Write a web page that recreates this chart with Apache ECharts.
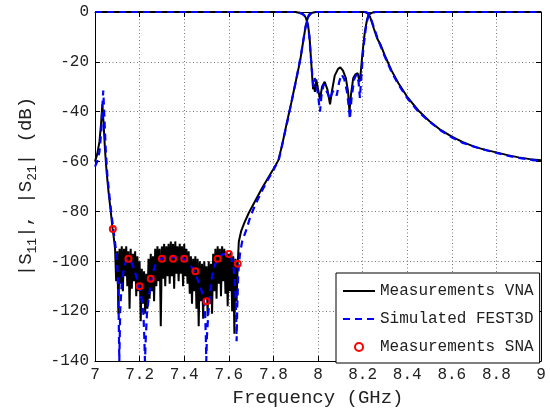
<!DOCTYPE html>
<html>
<head>
<meta charset="utf-8">
<script src="https://cdn.jsdelivr.net/npm/echarts@6.0.0/dist/echarts.min.js"></script>
<style>
  body { margin: 0; background: #fff; }
  #chart { width: 550px; height: 412px; }
</style>
</head>
<body>
<div id="chart"></div>
<script>
// frequency (GHz), level (dB)
var vnaS21 = [
  [7.0,-60],[7.01,-57],[7.02,-52],[7.027,-45],[7.033,-37],[7.038,-44],[7.045,-55.5],[7.052,-64],
  [7.06,-71.5],[7.07,-79.5],[7.079,-87],[7.085,-91],
  [7.090,-95],[7.095,-108],[7.100,-96],[7.105,-121],[7.110,-95],[7.115,-109],[7.120,-94],[7.125,-112],
  [7.130,-95],[7.135,-106],[7.140,-94],[7.145,-110],[7.150,-96],[7.155,-119],[7.160,-95],[7.165,-111],
  [7.170,-97],[7.175,-108],[7.180,-96],[7.185,-114],[7.190,-98],[7.195,-112],[7.200,-100],[7.205,-124],
  [7.210,-103],[7.215,-117],[7.220,-104],[7.225,-121],[7.230,-105],[7.235,-119],[7.240,-99],[7.245,-115],
  [7.250,-97],[7.255,-112],[7.260,-98],[7.265,-116],[7.270,-95],[7.275,-110],[7.280,-94],[7.285,-108],
  [7.290,-95],[7.295,-126],[7.300,-94],[7.305,-107],[7.310,-93],[7.315,-110],[7.320,-94],[7.325,-106],
  [7.330,-93],[7.335,-109],[7.340,-92],[7.345,-106],[7.350,-93],[7.355,-111],[7.360,-92],[7.365,-105],
  [7.370,-94],[7.375,-108],[7.380,-93],[7.385,-105],[7.390,-94],[7.395,-110],[7.400,-93],[7.405,-106],
  [7.410,-95],[7.415,-109],[7.420,-96],[7.425,-113],[7.430,-98],[7.435,-117],[7.440,-99],[7.445,-112],
  [7.450,-98],[7.455,-119],[7.460,-99],[7.465,-126],[7.470,-100],[7.475,-116],[7.480,-101],[7.485,-123],
  [7.490,-100],[7.495,-115],[7.500,-102],[7.505,-122],[7.510,-100],[7.515,-117],[7.520,-101],[7.525,-121],
  [7.530,-97],[7.535,-112],[7.540,-95],[7.545,-115],[7.550,-94],[7.555,-109],[7.560,-95],[7.565,-114],
  [7.570,-94],[7.575,-108],[7.580,-95],[7.585,-113],[7.590,-96],[7.595,-118],[7.600,-97],[7.605,-112],
  [7.610,-96],[7.615,-120],[7.620,-98],[7.625,-129],[7.630,-99],[7.635,-116],[7.640,-101],[7.645,-92],
  [7.655,-88],[7.67,-84.5],[7.69,-80.5],[7.72,-75.5],[7.75,-70.5],[7.78,-66],[7.80,-63],[7.822,-59.5],
  [7.84,-53],[7.86,-44.5],[7.88,-36.5],[7.90,-28],[7.92,-19.5],[7.935,-11],[7.945,-5.5],[7.955,-2],
  [7.97,-0.4],[7.99,0],[8.21,0],[8.22,-0.3],[8.233,-1.8],[8.25,-6.5],[8.265,-10.5],[8.28,-13],
  [8.3,-17.5],[8.33,-23.5],[8.36,-28.5],[8.4,-34],[8.45,-39.5],[8.5,-43.8],[8.55,-47.3],[8.6,-50],
  [8.65,-52.2],[8.7,-54],[8.75,-55.3],[8.8,-56.3],[8.85,-57.4],[8.9,-58.3],[8.95,-59],[9.0,-59.5]
];
var vnaS11 = [
  [7.0,0],[7.9,0],[7.92,-0.4],[7.935,-1],[7.945,-2.2],[7.955,-5],[7.962,-10],[7.968,-18],[7.974,-26],
  [7.978,-31],[7.982,-29],[7.986,-32],[7.992,-27],[8.0,-27.5],[8.009,-35],[8.018,-30],[8.03,-28],
  [8.042,-31],[8.054,-37],[8.062,-32],[8.075,-25.5],[8.09,-22.8],[8.1,-22.2],[8.112,-23.5],[8.125,-26.5],
  [8.135,-32],[8.141,-40],[8.148,-33],[8.158,-26.5],[8.168,-25],[8.178,-24.5],[8.186,-28],[8.192,-24],
  [8.2,-16],[8.21,-8],[8.22,-3],[8.23,-1],[8.245,-0.2],[8.26,0],[9.0,0]
];
var simS21 = [
  [7.0,-62],[7.01,-60],[7.02,-56],[7.028,-48],[7.033,-38],[7.037,-31.5],[7.042,-42],[7.048,-55],
  [7.055,-65],[7.065,-74],[7.075,-82],[7.085,-89],[7.095,-96],[7.102,-105],[7.106,-120],[7.109,-140],
  [7.113,-120],[7.12,-108.5],[7.13,-102.5],[7.14,-99.5],[7.15,-99],[7.16,-99.8],[7.17,-101.8],[7.18,-104.5],
  [7.19,-107.5],[7.2,-111],[7.21,-115.5],[7.217,-121],[7.221,-130],[7.224,-140],[7.228,-130],[7.233,-121],
  [7.24,-115.5],[7.25,-109],[7.26,-104.5],[7.27,-101.5],[7.285,-99.5],[7.3,-98.8],[7.33,-98.5],[7.36,-98.3],
  [7.39,-98.6],[7.41,-99.8],[7.43,-101.8],[7.45,-105],[7.47,-109.5],[7.485,-114],[7.493,-119],[7.497,-130],
  [7.499,-140],[7.502,-130],[7.508,-121],[7.516,-113],[7.525,-106],[7.538,-101.5],[7.553,-98.5],[7.575,-97],
  [7.598,-97.2],[7.612,-99],[7.622,-103],[7.628,-110],[7.632,-118],[7.635,-132],[7.638,-118],[7.643,-104],
  [7.65,-97],[7.66,-92],[7.68,-87],[7.695,-82.5],[7.72,-77],[7.75,-71.5],[7.78,-66.5],[7.80,-63.5],
  [7.825,-59],[7.845,-51],[7.865,-43],[7.885,-34.5],[7.905,-26],[7.925,-16.5],[7.94,-8],[7.95,-3.5],
  [7.96,-1],[7.975,-0.2],[7.99,0],[8.21,0],[8.225,-0.4],[8.235,-2],[8.25,-6],[8.265,-10],
  [8.28,-13.5],[8.3,-18],[8.33,-24],[8.36,-29],[8.4,-34.5],[8.45,-40],[8.5,-44],[8.55,-47.5],
  [8.6,-50.3],[8.65,-52.5],[8.7,-54],[8.75,-55.3],[8.8,-56.5],[8.85,-57.6],[8.9,-58.5],[8.95,-59.2],[9.0,-59.8]
];
var simS11 = [
  [7.0,0],[7.905,0],[7.925,-0.5],[7.94,-1.5],[7.95,-3.5],[7.96,-9],[7.968,-18],[7.975,-26],[7.98,-30],
  [7.985,-26.5],[7.992,-29],[8.0,-33],[8.005,-37],[8.009,-40],[8.015,-34],[8.025,-29],[8.032,-30.5],
  [8.045,-33],[8.054,-35],[8.065,-32],[8.075,-31.5],[8.084,-33.5],[8.095,-28],[8.106,-25],[8.118,-27],
  [8.13,-32],[8.138,-38],[8.143,-43],[8.15,-35],[8.162,-27],[8.173,-25],[8.182,-28],[8.188,-34.5],
  [8.195,-25],[8.203,-15],[8.215,-6],[8.225,-1.5],[8.24,-0.3],[8.255,0],[9.0,0]
];
var snaS21 = [
  [7.08,-87],[7.15,-99],[7.2,-110],[7.25,-107],[7.3,-99],[7.35,-99],
  [7.4,-99],[7.45,-104],[7.5,-116],[7.55,-99],[7.6,-97],[7.64,-101]
];

var mono = "'Liberation Mono', 'Courier New', monospace";
var chart = echarts.init(document.getElementById('chart'));

function lineSeries(name, data, color, type, width) {
  return {
    name: name, type: 'line', data: data, symbol: 'none', clip: false,
    lineStyle: { color: color, width: width, type: type },
    itemStyle: { color: color }
  };
}

var noDot = { color: 'rgba(0,0,0,0)', borderColor: 'rgba(0,0,0,0)', borderWidth: 0 };

var option = {
  animation: false,
  grid: { left: 95, right: 9, top: 12, bottom: 45 },
  legend: {
    orient: 'vertical', left: 336, top: 273,
    itemWidth: 32, itemHeight: 8, itemGap: 12,
    padding: [10, 6, 8, 6],
    backgroundColor: '#fff', borderColor: '#000', borderWidth: 1, borderRadius: 0,
    textStyle: { fontFamily: mono, fontSize: 16, color: '#222', lineHeight: 14 },
    data: [
      { name: 'Measurements VNA', itemStyle: noDot },
      { name: 'Simulated FEST3D', itemStyle: noDot },
      { name: 'Measurements SNA', icon: 'circle' }
    ]
  },
  xAxis: [{
    type: 'value', min: 7, max: 9, interval: 0.2,
    name: 'Frequency (GHz)', nameLocation: 'middle', nameGap: 16,
    nameTextStyle: { fontFamily: mono, fontSize: 19, color: '#222' },
    axisLine: { show: true, onZero: false, lineStyle: { color: '#000', width: 1 } },
    axisTick: { show: true, inside: true, length: 5, lineStyle: { color: '#000' } },
    axisLabel: { fontFamily: mono, fontSize: 16, color: '#222', margin: 6 },
    splitLine: { show: true, lineStyle: { color: '#777', width: 1, type: [1, 2.5] } }
  }, {
    type: 'value', min: 7, max: 9, interval: 0.2, position: 'top',
    axisLine: { show: true, onZero: false, lineStyle: { color: '#000', width: 1 } },
    axisTick: { show: true, inside: true, length: 5, lineStyle: { color: '#000' } },
    axisLabel: { show: false }, splitLine: { show: false }
  }],
  yAxis: [{
    type: 'value', min: -140, max: 0, interval: 20,
    name: '|S{sub|11}|, |S{sub|21}| (dB)', nameLocation: 'middle', nameGap: 56,
    nameTextStyle: {
      fontFamily: mono, fontSize: 19, color: '#222', lineHeight: 26,
      rich: { sub: { fontFamily: mono, fontSize: 13, color: '#222', lineHeight: 13, verticalAlign: 'bottom' } }
    },
    axisLine: { show: true, onZero: false, lineStyle: { color: '#000', width: 1 } },
    axisTick: { show: true, inside: true, length: 5, lineStyle: { color: '#000' } },
    axisLabel: { fontFamily: mono, fontSize: 16, color: '#222', margin: 6 },
    splitLine: { show: true, lineStyle: { color: '#777', width: 1, type: [1, 2.5] } }
  }, {
    type: 'value', min: -140, max: 0, interval: 20, position: 'right',
    axisLine: { show: true, onZero: false, lineStyle: { color: '#000', width: 1 } },
    axisTick: { show: true, inside: true, length: 5, lineStyle: { color: '#000' } },
    axisLabel: { show: false }, splitLine: { show: false }
  }],
  series: [
    lineSeries('Measurements VNA', vnaS21, '#000', 'solid', 2),
    lineSeries('Measurements VNA', vnaS11, '#000', 'solid', 2),
    lineSeries('Simulated FEST3D', simS21, '#0000ff', [7, 5], 2.2),
    lineSeries('Simulated FEST3D', simS11, '#0000ff', [7, 5], 2.2),
    {
      name: 'Measurements SNA', type: 'scatter', data: snaS21,
      symbol: 'circle', symbolSize: 6,
      itemStyle: { color: 'rgba(0,0,0,0)', borderColor: '#ff0000', borderWidth: 2, opacity: 1 },
      z: 5
    }
  ]
};
chart.setOption(option);
</script>
</body>
</html>
